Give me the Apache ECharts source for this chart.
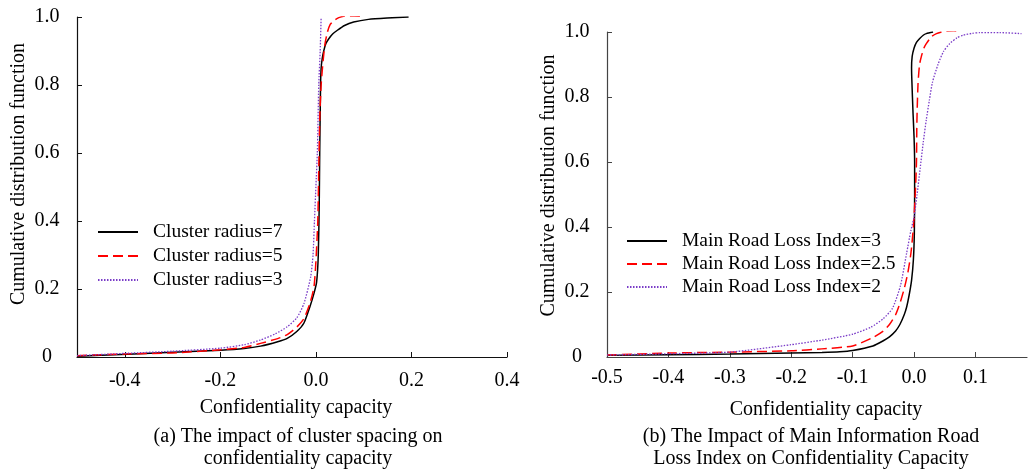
<!DOCTYPE html>
<html>
<head>
<meta charset="utf-8">
<script src="https://cdn.jsdelivr.net/npm/echarts@6/dist/echarts.min.js"></script>
<style>html,body{margin:0;padding:0;background:#fff}#c{width:1028px;height:472px}</style>
</head>
<body>
<div id="c"></div>
<script>
// ---------- Data: panel (a) ----------
var aTicksX = [-0.4, -0.2, 0, 0.2, 0.4];
var aR7x = [-0.5, -0.45, -0.394, -0.3, -0.199, -0.15, -0.116, -0.08, -0.06, -0.04, -0.025, -0.012, -0.004, 0.0015, 0.005, 0.007, 0.008, 0.0098, 0.011, 0.0135, 0.0167, 0.021, 0.027, 0.035, 0.045, 0.06, 0.079, 0.11, 0.149, 0.194];
var aR7y = [0.002, 0.005, 0.008, 0.014, 0.02, 0.025, 0.032, 0.045, 0.055, 0.075, 0.1, 0.15, 0.187, 0.22, 0.3, 0.45, 0.6, 0.8, 0.85, 0.88, 0.902, 0.922, 0.936, 0.95, 0.961, 0.975, 0.985, 0.993, 0.997, 1.0];
var aR5x = [-0.5, -0.4, -0.3, -0.2, -0.15, -0.116, -0.08, -0.06, -0.04, -0.025, -0.012, -0.004, 0.0, 0.004, 0.006, 0.008, 0.011, 0.015, 0.019, 0.024, 0.03, 0.038, 0.048, 0.058, 0.08, 0.1];
var aR5y = [0.004, 0.009, 0.012, 0.021, 0.028, 0.04, 0.054, 0.066, 0.088, 0.113, 0.16, 0.206, 0.28, 0.4, 0.55, 0.7, 0.8, 0.87, 0.92, 0.955, 0.978, 0.99, 0.998, 1.002, 1.003, 1.002];
var aR3x = [-0.5, -0.394, -0.3, -0.2, -0.15, -0.116, -0.085, -0.06, -0.04, -0.025, -0.011, -0.006, -0.003, 0.0, 0.003, 0.006, 0.009, 0.011];
var aR3y = [0.004, 0.011, 0.017, 0.026, 0.036, 0.05, 0.068, 0.089, 0.115, 0.157, 0.235, 0.3, 0.4, 0.5, 0.6, 0.8, 0.9, 1.0];

// ---------- Data: panel (b) ----------
var bTicksX = [-0.5, -0.4, -0.3, -0.2, -0.1, 0, 0.1];
var bL3x = [-0.5, -0.4, -0.3, -0.2, -0.15, -0.121, -0.1, -0.067, -0.05, -0.04, -0.03, -0.023, -0.016, -0.012, -0.008, -0.004, -0.001, 0.0005, 0.001, 0.001, 0.0, -0.0016, -0.0035, -0.004, -0.003, 0.0, 0.004, 0.0093, 0.015, 0.02, 0.031];
var bL3y = [0.005, 0.007, 0.009, 0.012, 0.014, 0.016, 0.02, 0.034, 0.05, 0.062, 0.08, 0.1, 0.13, 0.154, 0.19, 0.236, 0.3, 0.38, 0.5, 0.6, 0.68, 0.75, 0.85, 0.89, 0.925, 0.95, 0.968, 0.98, 0.99, 0.995, 1.0];
var bL25x = [-0.5, -0.4, -0.3, -0.2, -0.15, -0.1, -0.067, -0.05, -0.04, -0.03, -0.023, -0.016, -0.01, -0.005, -0.001, 0.002, 0.004, 0.0045, 0.005, 0.0065, 0.009, 0.012, 0.016, 0.02, 0.028, 0.0365, 0.045, 0.053, 0.065, 0.075];
var bL25y = [0.006, 0.012, 0.015, 0.019, 0.025, 0.034, 0.06, 0.08, 0.1, 0.13, 0.165, 0.21, 0.26, 0.32, 0.4, 0.5, 0.6, 0.7, 0.75, 0.84, 0.9, 0.925, 0.95, 0.964, 0.985, 0.995, 1.0, 1.003, 1.004, 1.002];
var bL2x = [-0.5, -0.4, -0.3, -0.2, -0.15, -0.1, -0.07, -0.05, -0.035, -0.022, -0.012, -0.005, 0.0, 0.005, 0.01, 0.015, 0.02, 0.025, 0.03, 0.039, 0.048, 0.058, 0.07, 0.08, 0.095, 0.107, 0.14, 0.175];
var bL2y = [0.006, 0.01, 0.015, 0.038, 0.052, 0.07, 0.092, 0.118, 0.15, 0.22, 0.32, 0.39, 0.43, 0.5, 0.58, 0.66, 0.73, 0.79, 0.845, 0.9, 0.94, 0.964, 0.982, 0.99, 0.996, 0.998, 0.998, 0.995];

function pairs(xs, ys) { return xs.map(function (x, i) { return [x, ys[i]]; }); }

var FONT = 'Liberation Serif';
var BLACK = '#000000', RED = '#ff0000', PURPLE = '#7a3cc8';

function xAxisCfg(gi, min, max, ticks, axisColor, pad, gap, margin) {
  return {
    type: 'value', gridIndex: gi, min: min, max: max,
    name: 'Confidentiality capacity', nameLocation: 'middle', nameGap: gap,
    nameTextStyle: { fontFamily: FONT, fontSize: 20, color: '#000', padding: [0, 0, 0, pad] },
    axisLine: { onZero: false, lineStyle: { color: axisColor, width: 1.2 } },
    axisTick: { inside: true, length: 5, customValues: ticks, lineStyle: { color: axisColor } },
    axisLabel: { customValues: ticks, margin: margin, fontFamily: FONT, fontSize: 20, color: '#000',
      formatter: function (v) { return v.toFixed(1); } },
    splitLine: { show: false }
  };
}
function yAxisCfg(gi, axisColor, pad) {
  return {
    type: 'value', gridIndex: gi, min: 0, max: 1, interval: 0.2,
    name: 'Cumulative distribution function', nameLocation: 'middle', nameGap: 48,
    nameTextStyle: { fontFamily: FONT, fontSize: 20, color: '#000', padding: [0, 0, 0, pad] },
    axisLine: { show: true, onZero: false, lineStyle: { color: axisColor, width: 1.2 } },
    axisTick: { show: true, inside: true, length: 5, lineStyle: { color: axisColor } },
    axisLabel: { margin: 30, align: 'center', fontFamily: FONT, fontSize: 20, color: '#000',
      formatter: function (v) { return v === 0 ? '0' : v.toFixed(1); } },
    splitLine: { show: false }
  };
}
function lineSeries(name, xi, yi, data, color, type, width) {
  return {
    type: 'line', name: name, xAxisIndex: xi, yAxisIndex: yi, data: data,
    showSymbol: false, symbol: 'none', smooth: 0.2, animation: false,
    lineStyle: { color: color, type: type, width: width },
    itemStyle: { color: color }
  };
}

var chart = echarts.init(document.getElementById('c'), null, { renderer: 'canvas' });
chart.setOption({
  backgroundColor: '#ffffff',
  animation: false,
  grid: [
    { left: 77, right: 521, top: 17, bottom: 115, outerBoundsMode: 'none', containLabel: false },
    { left: 607, right: 1, top: 32, bottom: 115, outerBoundsMode: 'none', containLabel: false }
  ],
  xAxis: [
    xAxisCfg(0, -0.5, 0.4, aTicksX, '#111', 8, 41, 14),
    xAxisCfg(1, -0.5, 0.184, bTicksX, '#444', 18, 43, 11)
  ],
  yAxis: [yAxisCfg(0, '#111', 26), yAxisCfg(1, '#444', 18)],
  title: [
    { text: '(a) The impact of cluster spacing on\nconfidentiality capacity', left: 293, top: 421, textAlign: 'center',
      textStyle: { fontFamily: FONT, fontSize: 20, fontWeight: 'normal', color: '#000', lineHeight: 22 } },
    { text: '(b) The Impact of Main Information Road\nLoss Index on Confidentiality Capacity', left: 806, top: 421, textAlign: 'center',
      textStyle: { fontFamily: FONT, fontSize: 20, fontWeight: 'normal', color: '#000', lineHeight: 22 } }
  ],
  legend: [
    { orient: 'vertical', left: 92, top: 217, itemWidth: 40, itemHeight: 14, itemGap: 4,
      itemStyle: { opacity: 0 },
      data: ['Cluster radius=7', 'Cluster radius=5', 'Cluster radius=3'],
      textStyle: { fontFamily: FONT, fontSize: 19.5, color: '#000', padding: [0, 0, 0, 10] } },
    { orient: 'vertical', left: 621, top: 226, itemWidth: 40, itemHeight: 14, itemGap: 3,
      itemStyle: { opacity: 0 },
      data: ['Main Road Loss Index=3', 'Main Road Loss Index=2.5', 'Main Road Loss Index=2'],
      textStyle: { fontFamily: FONT, fontSize: 19.5, color: '#000', padding: [0, 0, 0, 10] } }
  ],
  series: [
    lineSeries('Cluster radius=7', 0, 0, pairs(aR7x, aR7y), BLACK, 'solid', 1.5),
    lineSeries('Cluster radius=5', 0, 0, pairs(aR5x, aR5y), RED, [10, 5], 1.5),
    lineSeries('Cluster radius=3', 0, 0, pairs(aR3x, aR3y), PURPLE, [1.5, 1.5], 1.3),
    lineSeries('Main Road Loss Index=3', 1, 1, pairs(bL3x, bL3y), BLACK, 'solid', 1.5),
    lineSeries('Main Road Loss Index=2.5', 1, 1, pairs(bL25x, bL25y), RED, [10, 5], 1.5),
    lineSeries('Main Road Loss Index=2', 1, 1, pairs(bL2x, bL2y), PURPLE, [1.5, 1.5], 1.3)
  ]
});
</script>
</body>
</html>
